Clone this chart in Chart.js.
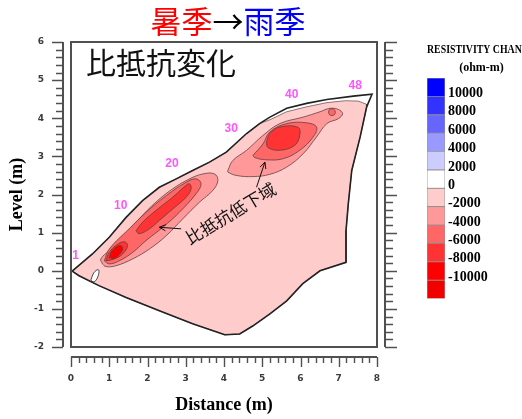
<!DOCTYPE html>
<html>
<head>
<meta charset="utf-8">
<script src="https://cdn.jsdelivr.net/npm/chart.js@4/dist/chart.umd.min.js"></script>
<style>
  html, body { margin: 0; padding: 0; background: #fff; overflow: hidden; }
  #wrap { position: relative; width: 522px; height: 419px; overflow: hidden; }
  #main { position: absolute; left: 0; top: 0; }
  #scaleBar { position: absolute; left: 400px; top: 40px; }
</style>
</head>
<body>
<div id="wrap">
  <canvas id="main" width="522" height="419"></canvas>
  <canvas id="scaleBar" width="136" height="270"></canvas>
</div>
<script>
// ---- Section geometry (distance m, level m) ----
const sectionOutline = [[0.03,-0.01],[0.56,0.44],[1.00,0.88],[1.44,1.40],[1.87,1.84],[2.31,2.19],[2.75,2.41],[3.18,2.63],[3.62,2.85],[4.06,3.11],[4.59,3.60],[4.93,3.86],[5.20,4.03],[5.64,4.26],[6.16,4.39],[6.69,4.49],[7.38,4.58],[7.87,4.63],[7.73,4.30],[7.56,3.51],[7.34,2.63],[7.25,1.76],[7.19,1.05],[7.19,0.22],[6.51,0.00],[6.06,-0.34],[5.64,-0.79],[5.20,-1.13],[4.75,-1.45],[4.41,-1.66],[4.02,-1.68],[3.18,-1.39],[2.31,-1.05],[1.44,-0.70],[0.73,-0.39],[0.21,-0.13]];

// 0 ohm-m contour (region between 0 and -2000)
const contourZero = [[0.03,-0.01],[0.56,0.44],[1.00,0.88],[1.44,1.40],[1.87,1.84],[2.31,2.19],[2.75,2.41],[3.18,2.63],[3.62,2.85],[4.06,3.11],[4.59,3.60],[4.93,3.86],[5.20,3.96],[5.64,4.17],[6.16,4.30],[6.69,4.41],[7.17,4.46],[7.51,4.45],[7.72,4.37],[7.73,4.30],[7.56,3.51],[7.34,2.63],[7.25,1.76],[7.19,1.05],[7.19,0.22],[6.51,0.00],[6.06,-0.34],[5.64,-0.79],[5.20,-1.13],[4.75,-1.45],[4.41,-1.66],[4.02,-1.68],[3.18,-1.39],[2.31,-1.05],[1.44,-0.70],[0.73,-0.39],[0.21,-0.13]];

// small positive pocket near the left end
const pocketPositive = [[0.52,-0.24],[0.60,-0.05],[0.71,0.03],[0.73,-0.05],[0.66,-0.24],[0.58,-0.29]];

// lower anomaly (electrodes 1-20)
const lowA2000 = [[0.82,0.18],[0.78,0.31],[1.00,0.53],[1.35,0.88],[1.78,1.36],[2.22,1.80],[2.66,2.15],[3.10,2.41],[3.45,2.54],[3.75,2.54],[3.84,2.37],[3.71,2.11],[3.36,1.80],[2.92,1.36],[2.49,0.92],[2.05,0.57],[1.61,0.31],[1.17,0.13],[0.91,0.11]];
const lowA4000 = [[0.87,0.26],[1.00,0.57],[1.52,1.10],[1.96,1.53],[2.49,1.97],[3.01,2.32],[3.27,2.41],[3.40,2.28],[3.27,2.02],[2.83,1.53],[2.40,1.14],[1.96,0.79],[1.61,0.48],[1.26,0.26],[1.00,0.18]];
const lowA6000Upper = [[1.70,1.05],[1.87,1.27],[2.22,1.58],[2.66,1.93],[3.01,2.24],[3.10,2.28],[3.14,2.15],[3.01,1.93],[2.66,1.62],[2.31,1.32],[2.05,1.10],[1.78,0.97]];
const lowA6000Lower = [[0.91,0.26],[1.00,0.48],[1.17,0.66],[1.39,0.76],[1.48,0.66],[1.35,0.44],[1.13,0.31]];
const lowA8000 = [[1.00,0.35],[1.08,0.53],[1.26,0.66],[1.35,0.61],[1.30,0.47],[1.13,0.32]];

// upper anomaly (electrodes 30-45)
const lowB2000 = [[4.10,2.63],[4.23,2.89],[4.59,3.16],[5.02,3.55],[5.46,3.86],[6.07,4.03],[6.51,4.17],[6.77,4.26],[6.99,4.23],[7.10,4.12],[6.99,3.99],[6.69,3.86],[6.42,3.51],[6.07,3.07],[5.64,2.72],[5.20,2.53],[4.76,2.47],[4.32,2.50],[4.10,2.59]];
const lowB4000 = [[4.76,3.03],[5.02,3.33],[5.20,3.64],[5.64,3.86],[6.16,3.88],[6.42,3.77],[6.33,3.51],[5.98,3.16],[5.55,2.94],[5.11,2.91],[4.80,2.97]];
const lowB4000Spot = [[6.73,4.16],[6.76,4.23],[6.82,4.25],[6.88,4.23],[6.91,4.16],[6.88,4.09],[6.82,4.07],[6.76,4.09]];
const lowB6000 = [[5.11,3.38],[5.20,3.60],[5.46,3.77],[5.94,3.76],[5.98,3.55],[5.85,3.29],[5.46,3.16],[5.15,3.23]];

// electrode numbers along the surface
const electrodeLabels = ['1','10','20','30','40','48'];
const electrodeX = [0.12, 1.30, 2.64, 4.19, 5.77, 7.43];
const electrodeY = [0.39, 1.71, 2.82, 3.73, 4.61, 4.85];

// annotation: text and arrows
const noteText = '比抵抗低下域';
const noteAt = [4.17, 1.50];
const noteArrows = [[[2.88,1.10],[2.31,1.14]], [[4.85,2.19],[5.07,2.85]]];

// axis tick labels
const distanceTicks = [0,1,2,3,4,5,6,7,8];
const levelTicks = [-2,-1,0,1,2,3,4,5,6];

// colour scale (ohm-m)
const levelEdges = [-12000,-10000,-8000,-6000,-4000,-2000,0,2000,4000,6000,8000,10000,12000];
const levelColors = ['#f20000','#ff0000','#ff3333','#ff6666','#ff9999','#ffcccc','#ffffff','#ccccff','#9999ff','#6666ff','#3333ff','#0000ff'];
const levelLabels = [-10000,-8000,-6000,-4000,-2000,0,2000,4000,6000,8000,10000];

const titleParts = [['暑季','#ff0000'],['→','#000000'],['雨季','#0000ff']];
const panelLabel = '比抵抗変化';

// ---- helpers ----
const colorOf = v => levelColors[levelEdges.findIndex((e, i) => v >= e && v < levelEdges[i + 1])];
const closed = pts => pts.concat([pts[0]]).map(([x, y]) => ({x, y}));
function region(label, pts, fill, line, width, order, tension) {
  return {
    label, data: closed(pts), fill: fill ? 'shape' : false,
    backgroundColor: fill || 'transparent', borderColor: line, borderWidth: width,
    pointRadius: 0, pointHoverRadius: 0, tension: tension, order
  };
}

const contourLine = 'rgba(90,60,60,0.85)';
const datasets = [
  region('section', sectionOutline, null, '#222', 1.6, 1, 0),
  region('0', contourZero, colorOf(-1000), contourLine, 0.8, 20, 0),
  region('pocket', pocketPositive, '#ffffff', '#333', 0.9, 19, 0.4),
  region('A-2000', lowA2000, colorOf(-3000), contourLine, 0.9, 15, 0.4),
  region('B-2000', lowB2000, colorOf(-3000), contourLine, 0.9, 15, 0.4),
  region('A-4000', lowA4000, colorOf(-5000), contourLine, 0.9, 14, 0.4),
  region('B-4000', lowB4000, colorOf(-5000), contourLine, 0.9, 14, 0.4),
  region('B-4000s', lowB4000Spot, colorOf(-5000), contourLine, 0.9, 14, 0.4),
  region('A-6000u', lowA6000Upper, colorOf(-7000), contourLine, 0.9, 13, 0.4),
  region('A-6000l', lowA6000Lower, colorOf(-7000), contourLine, 0.9, 13, 0.4),
  region('B-6000', lowB6000, colorOf(-7000), contourLine, 0.9, 13, 0.4),
  region('A-8000', lowA8000, colorOf(-9000), contourLine, 0.9, 12, 0.4)
];

const decorations = {
  id: 'decorations',
  afterDraw(chart) {
    const {ctx, chartArea: a, scales: {x, y}} = chart;
    ctx.save();
    // frame
    ctx.strokeStyle = '#505050';
    ctx.lineWidth = 2;
    ctx.strokeRect(a.left, a.top, a.right - a.left, a.bottom - a.top);

    // detached axis strips with minor ticks
    const yl = a.left - 8, yr = a.right + 8, xb = a.bottom + 10;
    ctx.beginPath();
    ctx.moveTo(yl, a.top); ctx.lineTo(yl, a.bottom);
    ctx.moveTo(yr, a.top); ctx.lineTo(yr, a.bottom);
    ctx.moveTo(a.left, xb); ctx.lineTo(a.right, xb);
    ctx.stroke();
    ctx.lineWidth = 1.4;
    ctx.beginPath();
    for (let k = 0; k <= 40; k++) {
      const v = y.min + k * 0.2;
      const py = Math.round(y.getPixelForValue(v)) + 0.5;
      const major = k % 5 === 0;
      ctx.moveTo(yl, py); ctx.lineTo(yl - (major ? 11 : 7), py);
      ctx.moveTo(yr, py); ctx.lineTo(yr + (major ? 12 : 8), py);
    }
    for (let k = 0; k <= 40; k++) {
      const v = x.min + k * 0.2;
      const px = Math.round(x.getPixelForValue(v)) + 0.5;
      const major = k % 5 === 0;
      ctx.moveTo(px, xb); ctx.lineTo(px, xb + (major ? 10 : 6));
    }
    ctx.stroke();

    // electrode numbers
    ctx.fillStyle = '#ff55ff';
    ctx.font = 'bold 12px "Liberation Sans", Arial, sans-serif';
    ctx.textAlign = 'center';
    ctx.textBaseline = 'middle';
    electrodeLabels.forEach((t, i) => {
      ctx.fillText(t, x.getPixelForValue(electrodeX[i]), y.getPixelForValue(electrodeY[i]));
    });

    // arrows
    ctx.strokeStyle = '#111';
    ctx.lineWidth = 1;
    noteArrows.forEach(([from, to]) => {
      const x0 = x.getPixelForValue(from[0]), y0 = y.getPixelForValue(from[1]);
      const x1 = x.getPixelForValue(to[0]), y1 = y.getPixelForValue(to[1]);
      const ang = Math.atan2(y1 - y0, x1 - x0);
      ctx.beginPath();
      ctx.moveTo(x0, y0); ctx.lineTo(x1, y1);
      ctx.moveTo(x1 - 7 * Math.cos(ang - 0.45), y1 - 7 * Math.sin(ang - 0.45));
      ctx.lineTo(x1, y1);
      ctx.lineTo(x1 - 7 * Math.cos(ang + 0.45), y1 - 7 * Math.sin(ang + 0.45));
      ctx.stroke();
    });

    // rotated note
    ctx.save();
    ctx.translate(x.getPixelForValue(noteAt[0]), y.getPixelForValue(noteAt[1]));
    ctx.rotate(-31 * Math.PI / 180);
    ctx.fillStyle = '#111';
    ctx.font = '17px "Noto Sans CJK JP", sans-serif';
    ctx.fillText(noteText, 0, 0);
    ctx.restore();

    // panel label
    ctx.fillStyle = '#111';
    ctx.font = '30px "Noto Sans CJK JP", sans-serif';
    ctx.textAlign = 'left';
    ctx.fillText(panelLabel, a.left + 15, a.top + 21);

    // heading
    ctx.font = '31px "Noto Sans CJK JP", sans-serif';
    const widths = titleParts.map(p => ctx.measureText(p[0]).width);
    let cx = (a.left + a.right) / 2 + 4 - widths.reduce((s, w) => s + w, 0) / 2;
    titleParts.forEach((p, i) => {
      ctx.fillStyle = p[1];
      ctx.fillText(p[0], cx, 21);
      cx += widths[i];
    });
    ctx.restore();
  }
};

const tickFont = {family: '"DejaVu Sans", sans-serif', weight: 'bold', size: 9};
const titleFont = {family: '"Liberation Serif", "Times New Roman", serif', weight: 'bold', size: 18};

new Chart(document.getElementById('main'), {
  type: 'line',
  data: {datasets},
  options: {
    responsive: false,
    animation: false,
    events: [],
    layout: {padding: {left: 0, top: 42, right: 145, bottom: 0}},
    plugins: {legend: {display: false}, tooltip: {enabled: false}},
    scales: {
      x: {
        type: 'linear', min: 0, max: 8,
        grid: {display: false, drawTicks: false}, border: {display: false},
        afterBuildTicks: s => { s.ticks = distanceTicks.map(v => ({value: v})); },
        ticks: {padding: 26, font: tickFont, color: '#3a3a3a', maxRotation: 0},
        title: {display: true, text: 'Distance (m)', font: titleFont, color: '#000', padding: {top: 0, bottom: 3}},
        afterFit: s => { s.height = 72; }
      },
      y: {
        type: 'linear', min: -2, max: 6,
        grid: {display: false, drawTicks: false}, border: {display: false},
        afterBuildTicks: s => { s.ticks = levelTicks.map(v => ({value: v})); },
        ticks: {padding: 27, font: tickFont, color: '#3a3a3a'},
        title: {display: true, text: 'Level (m)', font: titleFont, color: '#000', padding: {top: 7, bottom: 0}},
        afterFit: s => { s.width = 71; }
      }
    }
  },
  plugins: [decorations]
});

// ---- colour scale bar ----
new Chart(document.getElementById('scaleBar'), {
  type: 'bar',
  data: {
    labels: [''],
    datasets: levelColors.map((c, i) => ({
      data: [[levelEdges[i], levelEdges[i + 1]]],
      backgroundColor: c, borderColor: 'rgba(110,110,110,0.7)', borderWidth: 0.8,
      borderSkipped: false, grouped: false, barPercentage: 1, categoryPercentage: 1
    }))
  },
  options: {
    responsive: false,
    animation: false,
    events: [],
    layout: {padding: {left: 27, right: 0, top: 0, bottom: 11}},
    plugins: {
      legend: {display: false}, tooltip: {enabled: false},
      title: {
        display: true, text: ['RESISTIVITY CHANGE', '(ohm-m)'], color: '#000',
        font: {family: '"Liberation Serif", "Times New Roman", serif', weight: 'bold', size: 12, lineHeight: 1.5},
        padding: {top: 1, bottom: 1}
      }
    },
    scales: {
      x: {display: false},
      y: {
        position: 'right', min: levelEdges[0], max: levelEdges[levelEdges.length - 1],
        grid: {display: false, drawTicks: false}, border: {display: false},
        afterBuildTicks: s => { s.ticks = levelLabels.map(v => ({value: v})); },
        ticks: {
          padding: 3, labelOffset: -3, color: '#000', callback: v => String(v),
          font: {family: '"Liberation Serif", "Times New Roman", serif', weight: 'bold', size: 14}
        },
        afterFit: s => { s.width = 91; }
      }
    }
  }
});
</script>
</body>
</html>
